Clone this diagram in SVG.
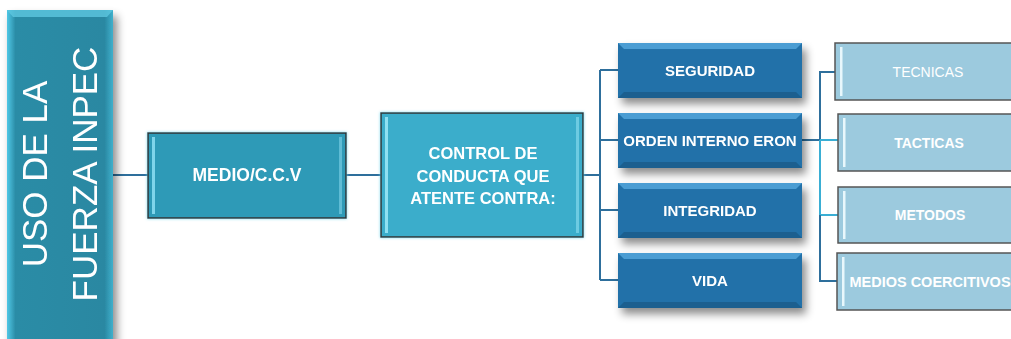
<svg xmlns="http://www.w3.org/2000/svg" width="1011" height="339" viewBox="0 0 1011 339">
<defs>
<filter id="sh" x="-20%" y="-20%" width="150%" height="160%">
<feDropShadow dx="4" dy="6" stdDeviation="4" flood-color="#000" flood-opacity="0.45"/>
</filter>
<filter id="glow" x="-10%" y="-10%" width="120%" height="130%">
<feDropShadow dx="0" dy="0" stdDeviation="1.5" flood-color="#6fd6ee" flood-opacity="0.9"/>
</filter>
<linearGradient id="lg" x1="0" y1="0" x2="1" y2="0">
<stop offset="0" stop-color="#4fc8e6"/>
<stop offset="0.08" stop-color="#2b8ca6"/>
<stop offset="0.92" stop-color="#2a88a2"/>
<stop offset="1" stop-color="#3fb0cc"/>
</linearGradient>
</defs>
<style>
.t{font-family:"Liberation Sans",Arial,sans-serif;fill:#fff;text-anchor:middle;dominant-baseline:central}
.b{font-weight:bold}
.mid{fill:#2271a9}
.bvT{fill:#4b9dd3}
.bvB{fill:#1a5e8f}
.bvS{fill:#2a82bd}
.rt{fill:#9ccade;stroke:#555;stroke-width:1.5}
.c{fill:none;stroke:#2e6f9c;stroke-width:2}
.cl{fill:none;stroke:#3aaed4;stroke-width:2}
</style>

<g id="connectors">
<path class="c" d="M113 175 H148"/>
<path class="c" d="M346 175 H381"/>
<path class="c" d="M583 175 H600 M600 70 V280 M600 70 H618 M600 140 H618 M600 210 H618 M600 280 H618"/>
<path class="c" d="M802 140 H820 V72 H835"/>
<path class="cl" d="M820 140 H838 M820 140 V215 H838"/>
<path class="c" d="M820 215 V281 H837"/>
</g>

<g id="node-uso" filter="url(#sh)">
<rect x="7" y="10" width="106" height="335" fill="url(#lg)"/>
<polygon points="7,10 113,10 107,17 13,17" fill="#5cc7e0" opacity="0.8"/>
<text class="t" transform="translate(47,174) rotate(-90)" font-size="35" dominant-baseline="auto" style="dominant-baseline:auto">USO DE LA</text>
<text class="t" transform="translate(97,174) rotate(-90)" font-size="35" style="dominant-baseline:auto">FUERZA INPEC</text>
</g>

<g id="node-medio" filter="url(#glow)">
<rect x="148" y="133" width="198" height="85" fill="#2f9ab7" stroke="#333" stroke-width="1.5"/>
<rect x="152" y="137" width="3" height="77" fill="#7fd4ea"/>
<rect x="339" y="137" width="3" height="77" fill="#7fd4ea" opacity="0.6"/>
<text class="t b" x="247" y="175" font-size="17.5">MEDIO/C.C.V</text>
</g>

<g id="node-control" filter="url(#glow)">
<rect x="381" y="113" width="202" height="124" fill="#3aadcb" stroke="#333" stroke-width="1.5"/>
<rect x="385" y="117" width="3" height="116" fill="#8fe0f2"/>
<rect x="576" y="117" width="3" height="116" fill="#8fe0f2" opacity="0.6"/>
<text class="t b" x="483" y="153" font-size="16.5">CONTROL DE</text>
<text class="t b" x="483" y="176" font-size="16.5">CONDUCTA QUE</text>
<text class="t b" x="483" y="198" font-size="16.5">ATENTE CONTRA:</text>
</g>

<g id="node-seguridad" filter="url(#sh)">
<rect class="mid" x="618" y="43" width="184" height="55"/>
<polygon class="bvT" points="618,43 802,43 796,49 624,49"/>
<polygon class="bvB" points="618,98 802,98 796,92 624,92"/>
<text class="t b" x="710" y="70" font-size="15">SEGURIDAD</text>
</g>

<g id="node-orden" filter="url(#sh)">
<rect class="mid" x="618" y="113" width="184" height="55"/>
<polygon class="bvT" points="618,113 802,113 796,119 624,119"/>
<polygon class="bvB" points="618,168 802,168 796,162 624,162"/>
<text class="t b" x="710" y="140" font-size="15">ORDEN INTERNO ERON</text>
</g>

<g id="node-integridad" filter="url(#sh)">
<rect class="mid" x="618" y="183" width="184" height="55"/>
<polygon class="bvT" points="618,183 802,183 796,189 624,189"/>
<polygon class="bvB" points="618,238 802,238 796,232 624,232"/>
<text class="t b" x="710" y="210" font-size="15">INTEGRIDAD</text>
</g>

<g id="node-vida" filter="url(#sh)">
<rect class="mid" x="618" y="253" width="184" height="55"/>
<polygon class="bvT" points="618,253 802,253 796,259 624,259"/>
<polygon class="bvB" points="618,308 802,308 796,302 624,302"/>
<text class="t b" x="710" y="280" font-size="15">VIDA</text>
</g>

<g id="node-tecnicas">
<rect class="rt" x="835" y="43" width="190" height="57"/>
<rect x="840" y="47" width="2.5" height="49" fill="#e8f7fc"/>
<text class="t" x="928" y="72" font-size="14">TECNICAS</text>
</g>

<g id="node-tacticas">
<rect class="rt" x="838" y="114" width="190" height="57"/>
<rect x="843" y="118" width="2.5" height="49" fill="#e8f7fc"/>
<text class="t b" x="929" y="143" font-size="14">TACTICAS</text>
</g>

<g id="node-metodos">
<rect class="rt" x="838" y="187" width="190" height="56"/>
<rect x="843" y="191" width="2.5" height="48" fill="#e8f7fc"/>
<text class="t b" x="930" y="215" font-size="14">METODOS</text>
</g>

<g id="node-medios">
<rect class="rt" x="837" y="253" width="190" height="57"/>
<rect x="842" y="257" width="2.5" height="49" fill="#e8f7fc"/>
<text class="t b" x="930" y="282" font-size="14.5">MEDIOS COERCITIVOS</text>
</g>
</svg>
